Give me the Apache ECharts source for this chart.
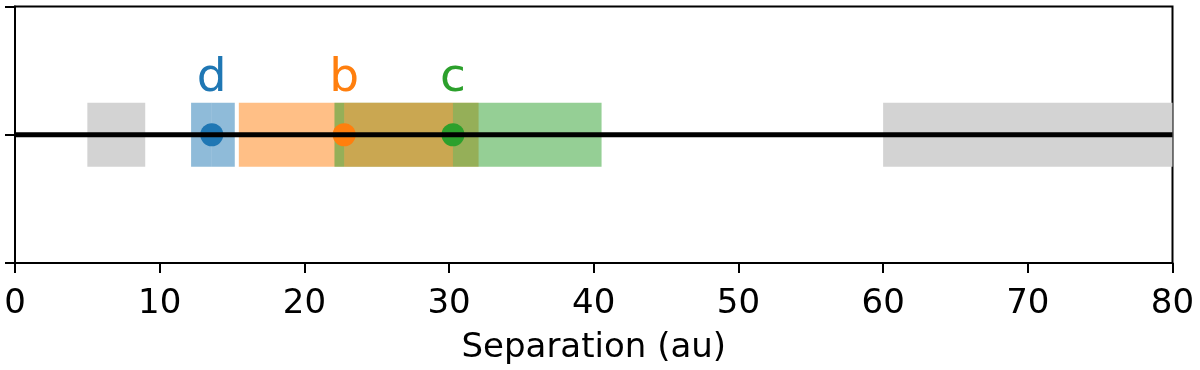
<!DOCTYPE html>
<html>
<head>
<meta charset="utf-8">
<script src="https://cdn.jsdelivr.net/npm/echarts@6/dist/echarts.min.js"></script>
<style>
  html, body { margin: 0; padding: 0; background: #fff; }
  #mainChart { width: 1200px; height: 370px; }
</style>
</head>
<body>
<div id="mainChart"></div>
<script>
// planets, best separation and allowed range (au)
var planets = ['d', 'b', 'c'];
var centers = [13.6, 22.75, 30.27];
var lower   = [12.17, 15.47, 22.08];
var upper   = [15.19, 32.04, 40.54];
// regions shown in grey (excluded separations)
var excludedLo = [5, 60];
var excludedHi = [9, 80];
var xTicks = [0, 10, 20, 30, 40, 50, 60, 70, 80];
var yTicks = [-1, 0, 1];

var colors = ['#1f77b4', '#ff7f0e', '#2ca02c'];
var font = 'DejaVu Sans';
var halfH = 0.25;

// left halves first, then right halves (draw order matters for the overlap colours)
var halves = [];
planets.forEach((p, i) => halves.push([lower[i], centers[i], i]));
planets.forEach((p, i) => halves.push([centers[i], upper[i], i]));

var grey = excludedLo.map((lo, i) => [lo, excludedHi[i]]);

function rectItem(params, api, fill)
{
    var p0 = api.coord([api.value(0), halfH]);
    var p1 = api.coord([api.value(1), -halfH]);
    return {
        type: 'rect',
        shape: { x: p0[0], y: p0[1], width: p1[0] - p0[0], height: p1[1] - p0[1] },
        style: { fill: fill }
    };
}

var myChart = echarts.init(document.getElementById('mainChart'), null, { renderer: 'canvas' });

var option = {
    animation: false,
    grid: {
        left: 15, right: 27.5, top: 6.5, bottom: 107,
        outerBoundsMode: 'none',
        containLabel: false,
        show: true, borderColor: '#000', borderWidth: 2
    },
    xAxis: {
        type: 'value',
        min: 0, max: 80, interval: 10,
        name: 'Separation (au)',
        nameLocation: 'middle',
        nameGap: 68,
        nameTextStyle: { fontFamily: font, fontSize: 34, color: '#000' },
        axisLine: { show: true, onZero: false, lineStyle: { color: '#000', width: 2 } },
        axisTick: { show: true, length: 10, lineStyle: { color: '#000', width: 2 } },
        axisLabel: {
            fontFamily: font, fontSize: 34, color: '#000', margin: 24,
            formatter: v => xTicks.includes(v) ? String(v) : ''
        },
        splitLine: { show: false }
    },
    yAxis: {
        type: 'value',
        min: yTicks[0], max: yTicks[yTicks.length - 1], interval: 1,
        axisLine: { show: true, onZero: false, lineStyle: { color: '#000', width: 2 } },
        axisTick: { show: true, length: 10, lineStyle: { color: '#000', width: 2 } },
        axisLabel: { show: false },
        splitLine: { show: false }
    },
    series: [
        {
            name: 'excluded',
            type: 'custom',
            data: grey,
            renderItem: (params, api) => rectItem(params, api, '#d3d3d3')
        },
        {
            name: 'ranges',
            type: 'custom',
            data: halves,
            renderItem: (params, api) => rectItem(params, api, echarts.color.modifyAlpha(colors[api.value(2)], 0.5))
        },
        {
            name: 'axisLine',
            type: 'line',
            data: [[0, 0], [80, 0]],
            showSymbol: false,
            lineStyle: { color: '#000', width: 5 }
        },
        {
            name: 'planets',
            type: 'scatter',
            symbolSize: 23,
            data: planets.map((p, i) => ({
                value: [centers[i], 0],
                itemStyle: { color: colors[i], opacity: 1 },
                label: {
                    show: true, formatter: p, position: 'top', distance: 21,
                    color: colors[i], fontFamily: font, fontSize: 47
                }
            }))
        }
    ]
};

myChart.setOption(option);
</script>
</body>
</html>
